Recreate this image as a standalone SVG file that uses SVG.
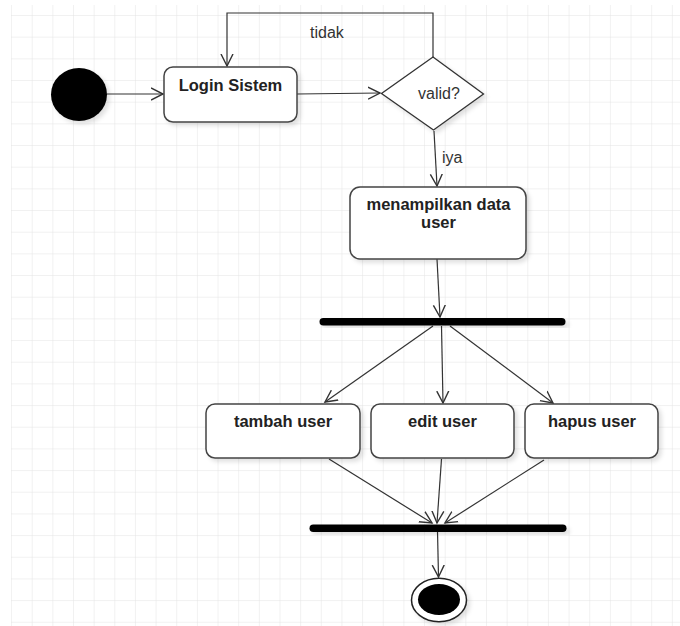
<svg xmlns="http://www.w3.org/2000/svg" width="680" height="626" viewBox="0 0 680 626">
  <defs>
    <pattern id="grid" patternUnits="userSpaceOnUse" x="11.05" y="-6.67" width="20.65" height="21.67">
      <path d="M0,0 H20.65 M0,0 V21.67" fill="none" stroke="#e3e3e3" stroke-width="1"/>
    </pattern>
    <marker id="open" markerUnits="userSpaceOnUse" markerWidth="14" markerHeight="14" refX="12" refY="6" orient="auto" viewBox="0 0 14 12">
      <path d="M0,0 L12,6 L0,12" fill="none" stroke="#333" stroke-width="1.4"/>
    </marker>
    <filter id="sh" x="-10%" y="-10%" width="130%" height="140%">
      <feDropShadow dx="3" dy="3" stdDeviation="2" flood-color="#000" flood-opacity="0.12"/>
    </filter>
  </defs>
  <style>
    .box { fill: #fff; stroke: #444; stroke-width: 1.5; filter: url(#sh); }
    .lbl { font-family: "Liberation Sans", Arial, sans-serif; font-size: 16.5px; font-weight: bold; fill: #222; text-anchor: middle; }
    .txt { font-family: "Liberation Sans", Arial, sans-serif; font-size: 16px; fill: #333; }
    .con { fill: none; stroke: #333; stroke-width: 1.2; marker-end: url(#open); }
    .bar { fill: #000; filter: url(#sh); }
  </style>
  <rect width="680" height="626" fill="#fff"/>
  <rect x="11" y="5" width="669" height="621" fill="url(#grid)"/>

  <g id="connectors">
    <path class="con" d="M107,94 L163,94"/>
    <path class="con" d="M297,94 L380,93"/>
    <path class="con" d="M433,57 V13 H227 V66"/>
    <path class="con" d="M434,131 L437,186"/>
    <path class="con" d="M437,259 L440,317"/>
    <path class="con" d="M433,326 L325,402"/>
    <path class="con" d="M441.5,326 L443,403"/>
    <path class="con" d="M450,326 L553,403"/>
    <path class="con" d="M329,459 L432,523"/>
    <path class="con" d="M441.5,459 L437,523"/>
    <path class="con" d="M544,460 L445,523"/>
    <path class="con" d="M437.5,531 L438.5,577"/>
    <text class="txt" x="310" y="38">tidak</text>
    <text class="txt" x="442" y="163">iya</text>
  </g>

  <g id="start">
    <ellipse cx="79" cy="94.5" rx="28" ry="26.5" fill="#000" filter="url(#sh)"/>
  </g>

  <g id="login">
    <rect class="box" x="164" y="67" width="133" height="55" rx="9"/>
    <text class="lbl" x="230.5" y="91">Login Sistem</text>
  </g>

  <g id="decision">
    <polygon points="433,57 483.5,94 433.5,130 381.5,93.5" fill="#fff" stroke="#333" stroke-width="1.3" filter="url(#sh)"/>
    <text class="txt" x="439" y="99" text-anchor="middle">valid?</text>
  </g>

  <g id="menampilkan">
    <rect class="box" x="350" y="187" width="176" height="72" rx="10"/>
    <text class="lbl" x="438.5" y="210">menampilkan data</text>
    <text class="lbl" x="438.5" y="228">user</text>
  </g>

  <g id="fork">
    <rect class="bar" x="319.5" y="318" width="246" height="7.5" rx="3.75"/>
  </g>

  <g id="tambah">
    <rect class="box" x="206" y="404" width="154" height="54" rx="9"/>
    <text class="lbl" x="283" y="427">tambah user</text>
  </g>

  <g id="edit">
    <rect class="box" x="371" y="404" width="143" height="54" rx="9"/>
    <text class="lbl" x="442.5" y="427">edit user</text>
  </g>

  <g id="hapus">
    <rect class="box" x="525" y="404" width="133" height="54" rx="9"/>
    <text class="lbl" x="592" y="427">hapus user</text>
  </g>

  <g id="join">
    <rect class="bar" x="309.5" y="524.5" width="257" height="7.5" rx="3.75"/>
  </g>

  <g id="end">
    <ellipse cx="439" cy="600" rx="27.5" ry="21.7" fill="#fff" stroke="#222" stroke-width="1.5" filter="url(#sh)"/>
    <ellipse cx="439" cy="599.5" rx="21" ry="15.5" fill="#000"/>
  </g>
</svg>
